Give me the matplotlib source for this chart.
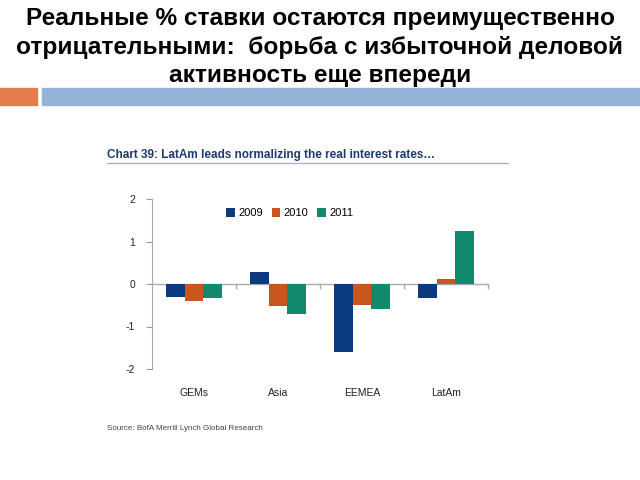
import matplotlib
matplotlib.use("Agg")
import matplotlib.pyplot as plt
import matplotlib.transforms as mtransforms
from matplotlib.patches import Rectangle
import numpy as np

plt.rcParams["font.family"] = ["Liberation Sans", "DejaVu Sans"]

# data
regions = ["GEMs", "Asia", "EEMEA", "LatAm"]
years = ["2009", "2010", "2011"]
rates_2009 = [-0.30, 0.28, -1.60, -0.32]
rates_2010 = [-0.40, -0.52, -0.50, 0.12]
rates_2011 = [-0.32, -0.70, -0.58, 1.25]
yticks = [-2, -1, 0, 1, 2]

colors = ["#0B3A7E", "#C8561F", "#0F8A6C"]

fig = plt.figure(figsize=(6.4, 4.8), dpi=100)

# slide header
header = ["Реальные % ставки остаются преимущественно",
          "отрицательными:  борьба с избыточной деловой",
          "активность еще впереди"]
for k, line in enumerate(header):
    fig.text(0.5, 0.962 - k * 0.06, line, ha="center", va="center",
             fontsize=17.6, fontweight="bold")
fig.patches.append(Rectangle((0, 1 - 105 / 480), 37 / 640, 17 / 480,
                             transform=fig.transFigure, color="#E27D4B", zorder=0))
fig.patches.append(Rectangle((42 / 640, 1 - 105 / 480), 598 / 640, 17 / 480,
                             transform=fig.transFigure, color="#95B3D7", zorder=0))

# chart title + rule
fig.text(107 / 640, 1 - 155 / 480,
         "Chart 39: LatAm leads normalizing the real interest rates…",
         ha="left", va="center", fontsize=8.5, fontweight="bold", color="#1F3A6E")
fig.lines.append(plt.Line2D([107 / 640, 508 / 640], [1 - 163 / 480] * 2,
                            transform=fig.transFigure, color="#A9B4C6", lw=1))
fig.text(107 / 640, 1 - 429 / 480, "Source: BofA Merrill Lynch Global Research",
         ha="left", va="center", fontsize=5.8, color="#444444")

ax = fig.add_axes([152 / 640, 1 - 369 / 480, 336 / 640, 170 / 480])
x = np.arange(len(regions))
w = 0.225
for i, (vals, yr) in enumerate(zip([rates_2009, rates_2010, rates_2011], years)):
    ax.bar(x + (i - 1) * w, vals, w, color=colors[i], label=yr, zorder=2)

ax.set_xlim(-0.5, 3.5)
ax.set_ylim(-2, 2)
ax.set_yticks(yticks)
ax.set_yticklabels([str(t) for t in yticks])
ax.tick_params(axis="y", length=4, color="#999999", labelsize=7.5, pad=8,
               labelcolor="#222222")
ax.set_xticks([])
for s in ["top", "right", "bottom"]:
    ax.spines[s].set_visible(False)
ax.spines["left"].set_color("#AAAAAA")

# zero line with category tick marks
ax.axhline(0, color="#AAAAAA", lw=1, zorder=1)
for b in [0.5, 1.5, 2.5, 3.5]:
    ax.plot([b, b], [0, -0.1], color="#AAAAAA", lw=1, clip_on=False)

trans = mtransforms.blended_transform_factory(ax.transData, ax.transAxes)
for xi, r in zip(x, regions):
    ax.text(xi, -0.14, r, transform=trans, ha="center", va="center",
            fontsize=7.5, color="#222222")

ax.legend(loc="upper center", bbox_to_anchor=(0.41, 1.005), ncol=3, frameon=False,
          fontsize=8, handlelength=0.8, handleheight=0.8, columnspacing=0.8,
          handletextpad=0.3)

fig.savefig("out.png", dpi=100)
